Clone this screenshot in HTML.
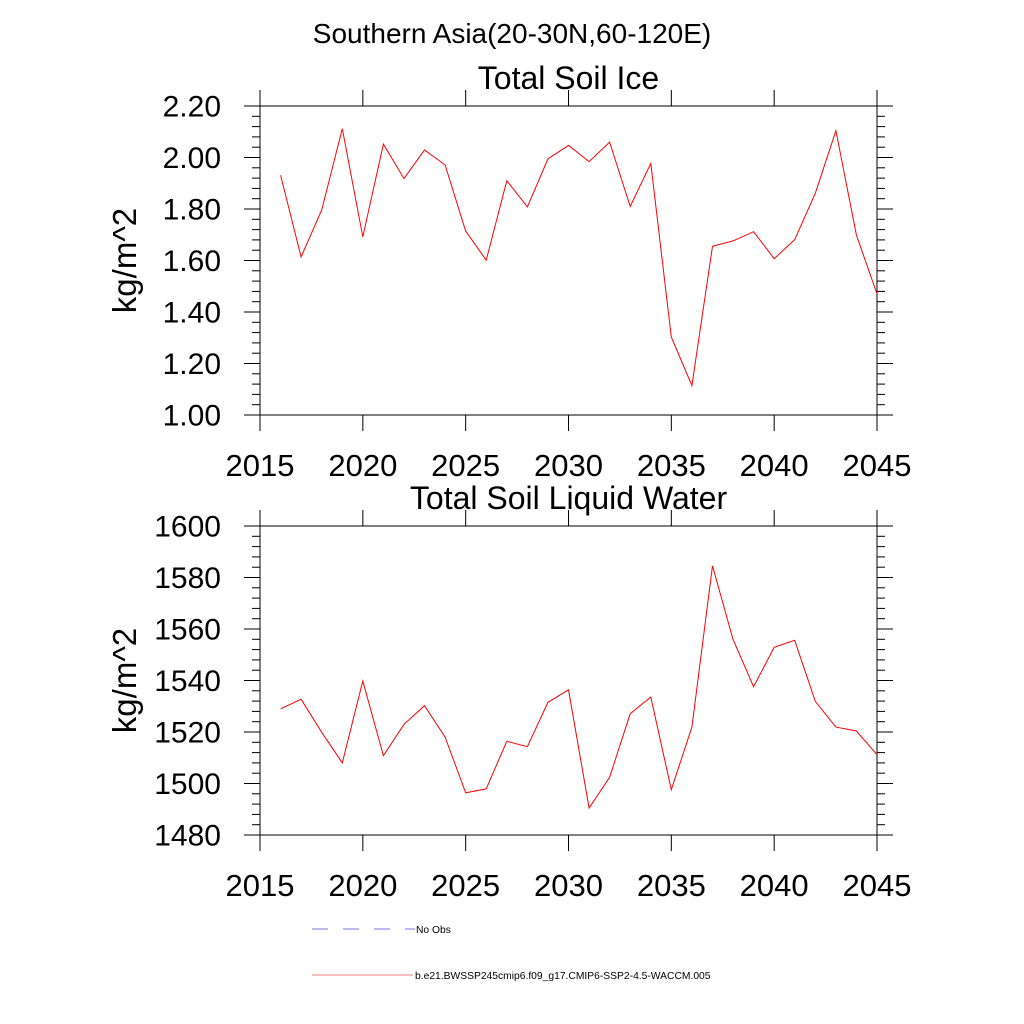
<!DOCTYPE html>
<html><head><meta charset="utf-8"><style>
html,body{margin:0;padding:0;background:#fff;}
svg{display:block;font-family:"Liberation Sans",Arial,sans-serif;}
</style></head><body>
<svg id="chart" width="1024" height="1024" viewBox="0 0 1024 1024" xmlns="http://www.w3.org/2000/svg">
<rect width="1024" height="1024" fill="#fff"/>
<text x="512" y="43" font-size="28" text-anchor="middle">Southern Asia(20-30N,60-120E)</text>
<g id="p1"></g>
<g id="p2"></g>
<g>
<line x1="312" y1="929" x2="415" y2="929" stroke="#7777ee" stroke-width="1" stroke-dasharray="16,15"/>
<text x="416" y="933" font-size="10.3">No Obs</text>
<line x1="312" y1="975" x2="413" y2="975" stroke="#f08080" stroke-width="1"/>
<text x="415" y="979" font-size="10.3">b.e21.BWSSP245cmip6.f09_g17.CMIP6-SSP2-4.5-WACCM.005</text>
</g>
</svg>
<script>
const years = [2016,2017,2018,2019,2020,2021,2022,2023,2024,2025,2026,2027,2028,2029,2030,2031,2032,2033,2034,2035,2036,2037,2038,2039,2040,2041,2042,2043,2044,2045];
const iceValues = [1.931,1.614,1.796,2.112,1.692,2.052,1.918,2.029,1.971,1.714,1.601,1.910,1.808,1.994,2.047,1.984,2.060,1.810,1.977,1.303,1.114,1.655,1.676,1.712,1.607,1.681,1.861,2.104,1.699,1.470];
const liquidValues = [1529.0,1532.7,1519.9,1508.0,1539.8,1510.8,1523.0,1530.2,1518.0,1496.4,1497.9,1516.4,1514.3,1531.5,1536.4,1490.5,1502.4,1527.1,1533.6,1497.6,1521.9,1584.5,1556.0,1537.6,1552.9,1555.6,1531.9,1521.9,1520.4,1511.2];
const xTickLabels = ["2015","2020","2025","2030","2035","2040","2045"];
const iceTickLabels = ["1.00","1.20","1.40","1.60","1.80","2.00","2.20"];
const liquidTickLabels = ["1480","1500","1520","1540","1560","1580","1600"];

const NS="http://www.w3.org/2000/svg";
const L=260,R=877,X0=2015,X1=2045;
function xs(v){return L+(v-X0)/(X1-X0)*(R-L);}
function mk(parent,tag,attrs){const e=document.createElementNS(NS,tag);for(const k in attrs)e.setAttribute(k,attrs[k]);parent.appendChild(e);return e;}

function panel(gid,top,bot,ymin,ymax,ylabels,vals,title,key){
  const g=document.getElementById(gid);
  const ys=v=>bot-(v-ymin)/(ymax-ymin)*(bot-top);
  const fr=mk(g,'rect',{x:L,y:top,width:R-L,height:bot-top,fill:'none',stroke:'#000','stroke-width':1});
  
  
  const step=(ymax-ymin)/6;
  for(let i=0;i<=30;i++){
    const v=ymin+i*step/5, y=ys(v), major=i%5===0, len=major?16:8;
    const t1=mk(g,'line',{x1:L-len,y1:y,x2:L,y2:y,stroke:'#000','stroke-width':1});
    
    
    const t2=mk(g,'line',{x1:R,y1:y,x2:R+len,y2:y,stroke:'#000','stroke-width':1});
    
    
  }
  ylabels.forEach((lab,i)=>{
    const tx=mk(g,'text',{x:221,y:ys(ymin+i*step)+10.5,'font-size':30,'text-anchor':'end'});
    tx.textContent=lab;
    
    
  });
  xTickLabels.forEach((lab)=>{
    const x=xs(+lab);
    const a=mk(g,'line',{x1:x,y1:bot,x2:x,y2:bot+16,stroke:'#000','stroke-width':1});
    
    
    const b=mk(g,'line',{x1:x,y1:top-16,x2:x,y2:top,stroke:'#000','stroke-width':1});
    
    
    const tx=mk(g,'text',{x:x,y:bot+61,'font-size':31,'text-anchor':'middle'});
    tx.textContent=lab;
    
    
  });
  const pts=years.map((yr,i)=>xs(yr).toFixed(1)+','+ys(vals[i]).toFixed(1)).join(' ');
  const pl=mk(g,'polyline',{points:pts,fill:'none',stroke:'#ff0000','stroke-width':1});
  
  
  const tt=mk(g,'text',{x:(L+R)/2,y:top-17,'font-size':32,'text-anchor':'middle'});
  tt.textContent=title;
  
  
  const cy=(top+bot)/2;
  const yt=mk(g,'text',{x:136,y:cy,'font-size':33,'text-anchor':'middle',transform:'rotate(-90 136 '+cy+')'});
  yt.textContent='kg/m^2';
  
  
}
panel('p1',106,415,1.0,2.2,iceTickLabels,iceValues,'Total Soil Ice','ice');
panel('p2',526,835,1480,1600,liquidTickLabels,liquidValues,'Total Soil Liquid Water','liquid');
</script>
</body></html>
